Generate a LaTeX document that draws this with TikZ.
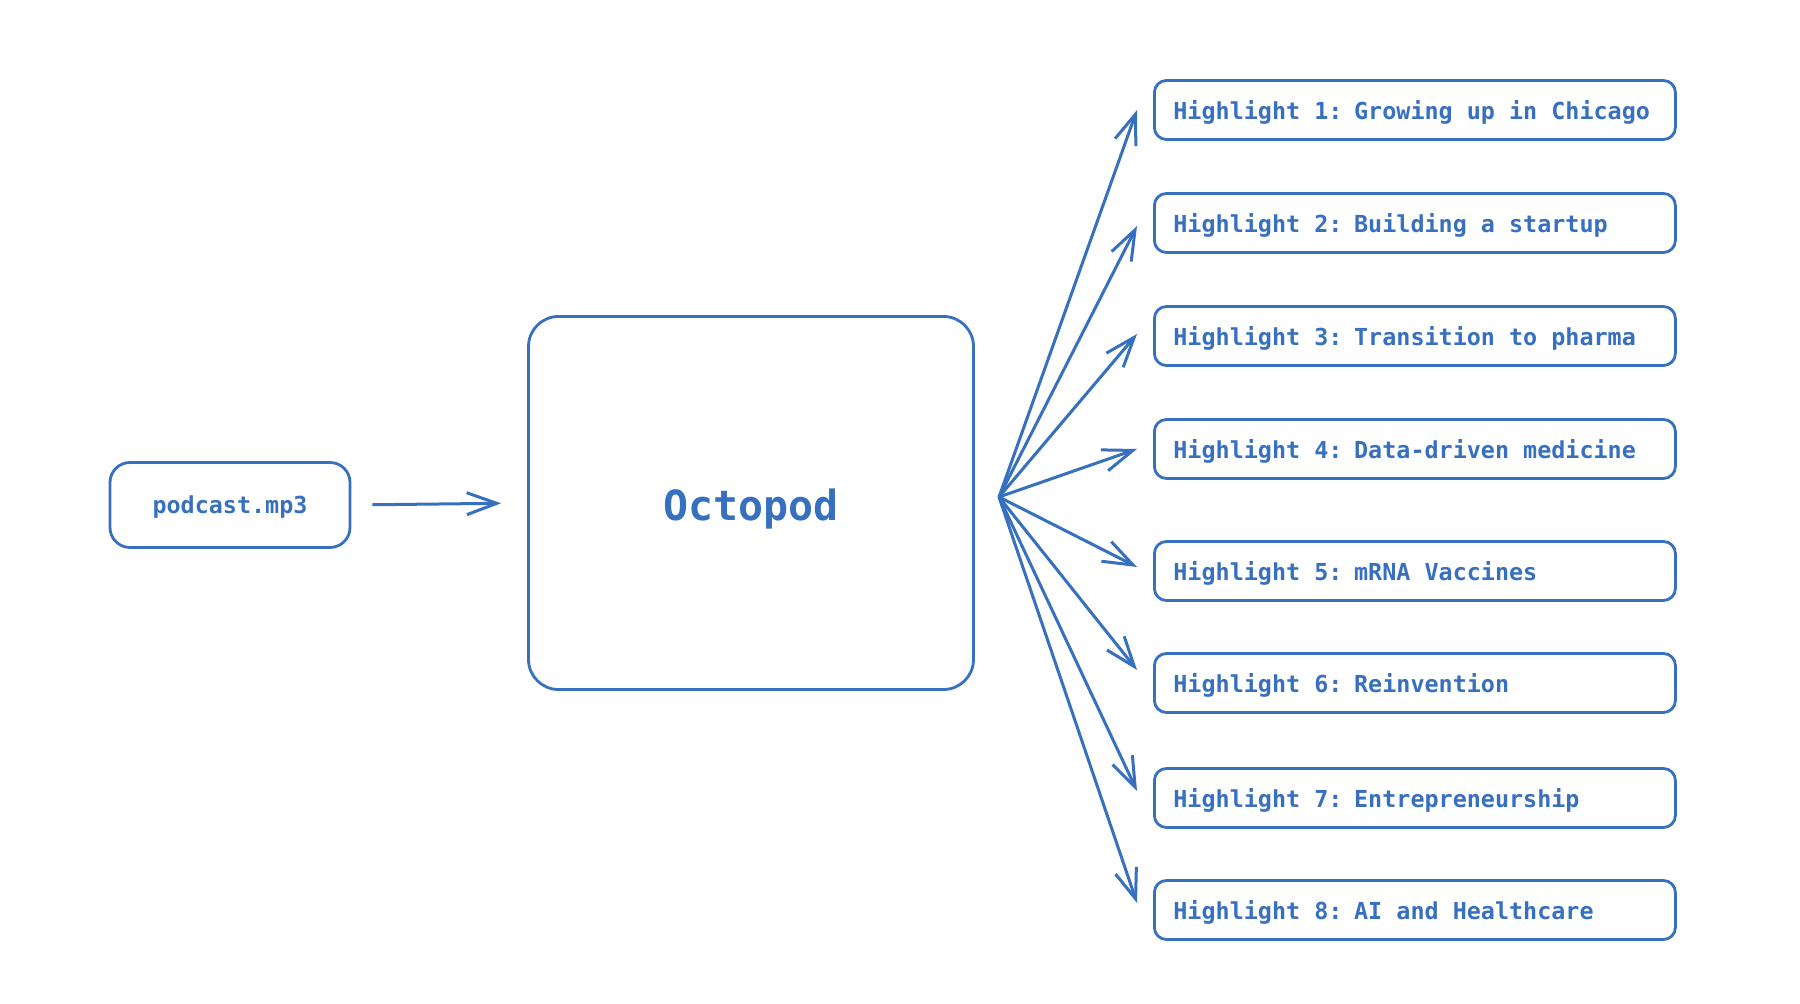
\documentclass[tikz,border=0pt]{standalone}
\usepackage{fontspec}
\setmonofont{DejaVu Sans Mono}
\usepackage{xcolor}
\usetikzlibrary{arrows.meta}
\definecolor{octoblue}{RGB}{56,112,192}
\tikzset{
    box/.style={draw=octoblue, line width=1.4pt, rounded corners=10pt, text=octoblue,
        font=\ttfamily\bfseries\fontsize{11.7}{14}\selectfont},
    hlbox/.style={box, rounded corners=6pt, anchor=west, text width=241.5pt, inner xsep=9.5pt, minimum height=29.5pt, align=left,
        execute at begin node={\spaceskip=0.602em\relax}},
    arr/.style={draw=octoblue, line width=1.5pt, -{Straight Barb[length=15pt, width=11pt, line width=1.5pt]}}
}

\begin{document}
\begin{tikzpicture}[x=0.5pt, y=-0.5pt]
            \useasboundingbox (0, 0) rectangle (1800, 1004);

            \node[box, minimum width=120pt, minimum height=42.5pt] (podcast) at (230, 505) {\raisebox{-1pt}[\height][\depth]{podcast.mp3}};

            \node[box, rounded corners=15pt, minimum width=222.5pt, minimum height=186.5pt,
                font=\ttfamily\bfseries\fontsize{20.8}{24}\selectfont] (octo) at (751, 503) {\raisebox{-3pt}[\height][\depth]{Octopod}};

            \draw[arr, shorten <=10.5pt, shorten >=13pt] (podcast.east) -- (octo.west);

            \coordinate (hub) at (999, 497);

            \foreach \i/\y/\dy/\txt in {1/110/0/Growing up in Chicago, 2/223/-1.5/Building a startup,
                3/336/1/Transition to pharma, 4/449/0/Data-driven medicine, 5/571/2/mRNA Vaccines,
                6/683/6.5/Reinvention, 7/798/3.5/Entrepreneurship, 8/910/3.5/AI and Healthcare} {
                \node[hlbox] (h\i) at (1153, \y) {\raisebox{-1pt}[\height][\depth]{Highlight \i: \txt}};
                \draw[arr] (hub) -- ([xshift=-8pt, yshift=\dy pt]h\i.west);
            }

        \end{tikzpicture}
\end{document}
